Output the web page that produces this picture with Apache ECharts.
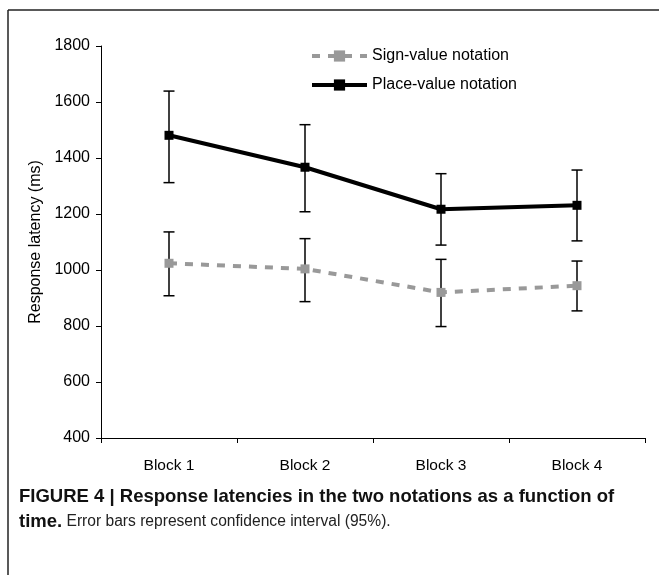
<!DOCTYPE html>
<html>
<head>
<meta charset="utf-8">
<script src="https://cdn.jsdelivr.net/npm/echarts@6/dist/echarts.min.js"></script>
<style>
  html, body { margin: 0; padding: 0; background: #fff; }
  #chart { width: 659px; height: 575px; }
</style>
</head>
<body>
<div id="chart"></div>
<script>
// Response latency (ms) per block, with 95% confidence interval bounds
const blocks = ['Block 1', 'Block 2', 'Block 3', 'Block 4'];

const signValue = [1024, 1004, 920, 944];
const signLow = [908, 887, 798, 854];
const signHigh = [1136, 1112, 1038, 1032];

const placeValue = [1481, 1367, 1217, 1231];
const placeLow = [1312, 1208, 1089, 1104];
const placeHigh = [1639, 1519, 1344, 1357];

const yTicks = { min: 400, max: 1800, interval: 200 };

const FONT = '"Liberation Sans", Arial, sans-serif';

function errorData(low, high) {
  return low.map((l, i) => [i, l, high[i]]);
}

function renderErrorBar(params, api) {
  const x = api.value(0);
  const lo = api.coord([x, api.value(1)]);
  const hi = api.coord([x, api.value(2)]);
  const cap = 5.5;
  const style = { stroke: '#000', lineWidth: 1.5 };
  return {
    type: 'group',
    children: [
      { type: 'line', shape: { x1: lo[0], y1: lo[1], x2: hi[0], y2: hi[1] }, style },
      { type: 'line', shape: { x1: hi[0] - cap, y1: hi[1], x2: hi[0] + cap, y2: hi[1] }, style },
      { type: 'line', shape: { x1: lo[0] - cap, y1: lo[1], x2: lo[0] + cap, y2: lo[1] }, style }
    ]
  };
}

const chart = echarts.init(document.getElementById('chart'), null, { renderer: 'canvas' });

chart.setOption({
  animation: false,
  backgroundColor: '#fff',
  textStyle: { fontFamily: FONT },
  grid: { left: 101, right: 14, top: 46, bottom: 137, containLabel: false },
  title: {
    left: 19,
    top: 484,
    padding: 0,
    text: '{b|FIGURE 4 | Response latencies in the two notations as a function of}\n{b|time.}{n| Error bars represent confidence interval (95%).}',
    textStyle: {
      rich: {
        b: { fontFamily: FONT, fontWeight: 'bold', fontSize: 18.5, color: '#111', lineHeight: 25 },
        n: { fontFamily: FONT, fontWeight: 'normal', fontSize: 15.6, color: '#222', lineHeight: 25 }
      }
    }
  },
  legend: {
    orient: 'vertical',
    left: 305,
    top: 43,
    itemWidth: 55,
    itemHeight: 14,
    itemGap: 13,
    data: ['Sign-value notation', 'Place-value notation'],
    lineStyle: { width: 4 },
    textStyle: { fontFamily: FONT, fontSize: 16, color: '#000' }
  },
  xAxis: {
    type: 'category',
    data: blocks,
    boundaryGap: true,
    axisLine: { lineStyle: { color: '#000', width: 1 } },
    axisTick: { show: true, length: 5, lineStyle: { color: '#000' } },
    axisLabel: { color: '#000', fontSize: 15.5, fontFamily: FONT, margin: 20 },
    splitLine: { show: false }
  },
  yAxis: {
    type: 'value',
    min: yTicks.min,
    max: yTicks.max,
    interval: yTicks.interval,
    name: 'Response latency (ms)',
    nameLocation: 'middle',
    nameGap: 57,
    nameRotate: 90,
    nameTextStyle: { color: '#000', fontSize: 16, fontFamily: FONT },
    axisLine: { show: true, lineStyle: { color: '#000', width: 1 } },
    axisTick: { show: true, length: 5, lineStyle: { color: '#000' } },
    axisLabel: {
      color: '#000', fontSize: 16, fontFamily: FONT, margin: 11,
      formatter: v => String(v)
    },
    splitLine: { show: false }
  },
  graphic: [
    // figure frame (left and top edges)
    { type: 'line', shape: { x1: 8, y1: 10, x2: 659, y2: 10 }, style: { stroke: '#222', lineWidth: 1.5 } },
    { type: 'line', shape: { x1: 8, y1: 10, x2: 8, y2: 575 }, style: { stroke: '#222', lineWidth: 1.5 } }
  ],
  series: [
    {
      name: 'Sign-value CI',
      type: 'custom',
      renderItem: renderErrorBar,
      data: errorData(signLow, signHigh),
      encode: { x: 0, y: [1, 2] },
      z: 1
    },
    {
      name: 'Place-value CI',
      type: 'custom',
      renderItem: renderErrorBar,
      data: errorData(placeLow, placeHigh),
      encode: { x: 0, y: [1, 2] },
      z: 1
    },
    {
      name: 'Sign-value notation',
      type: 'line',
      data: signValue,
      symbol: 'rect',
      symbolSize: 9,
      color: '#999',
      lineStyle: { color: '#999', width: 4, type: [8, 8] },
      itemStyle: { color: '#999', borderWidth: 0 },
      z: 3
    },
    {
      name: 'Place-value notation',
      type: 'line',
      data: placeValue,
      symbol: 'rect',
      symbolSize: 9,
      color: '#000',
      lineStyle: { color: '#000', width: 4 },
      itemStyle: { color: '#000', borderWidth: 0 },
      z: 3
    }
  ]
});
</script>
</body>
</html>
